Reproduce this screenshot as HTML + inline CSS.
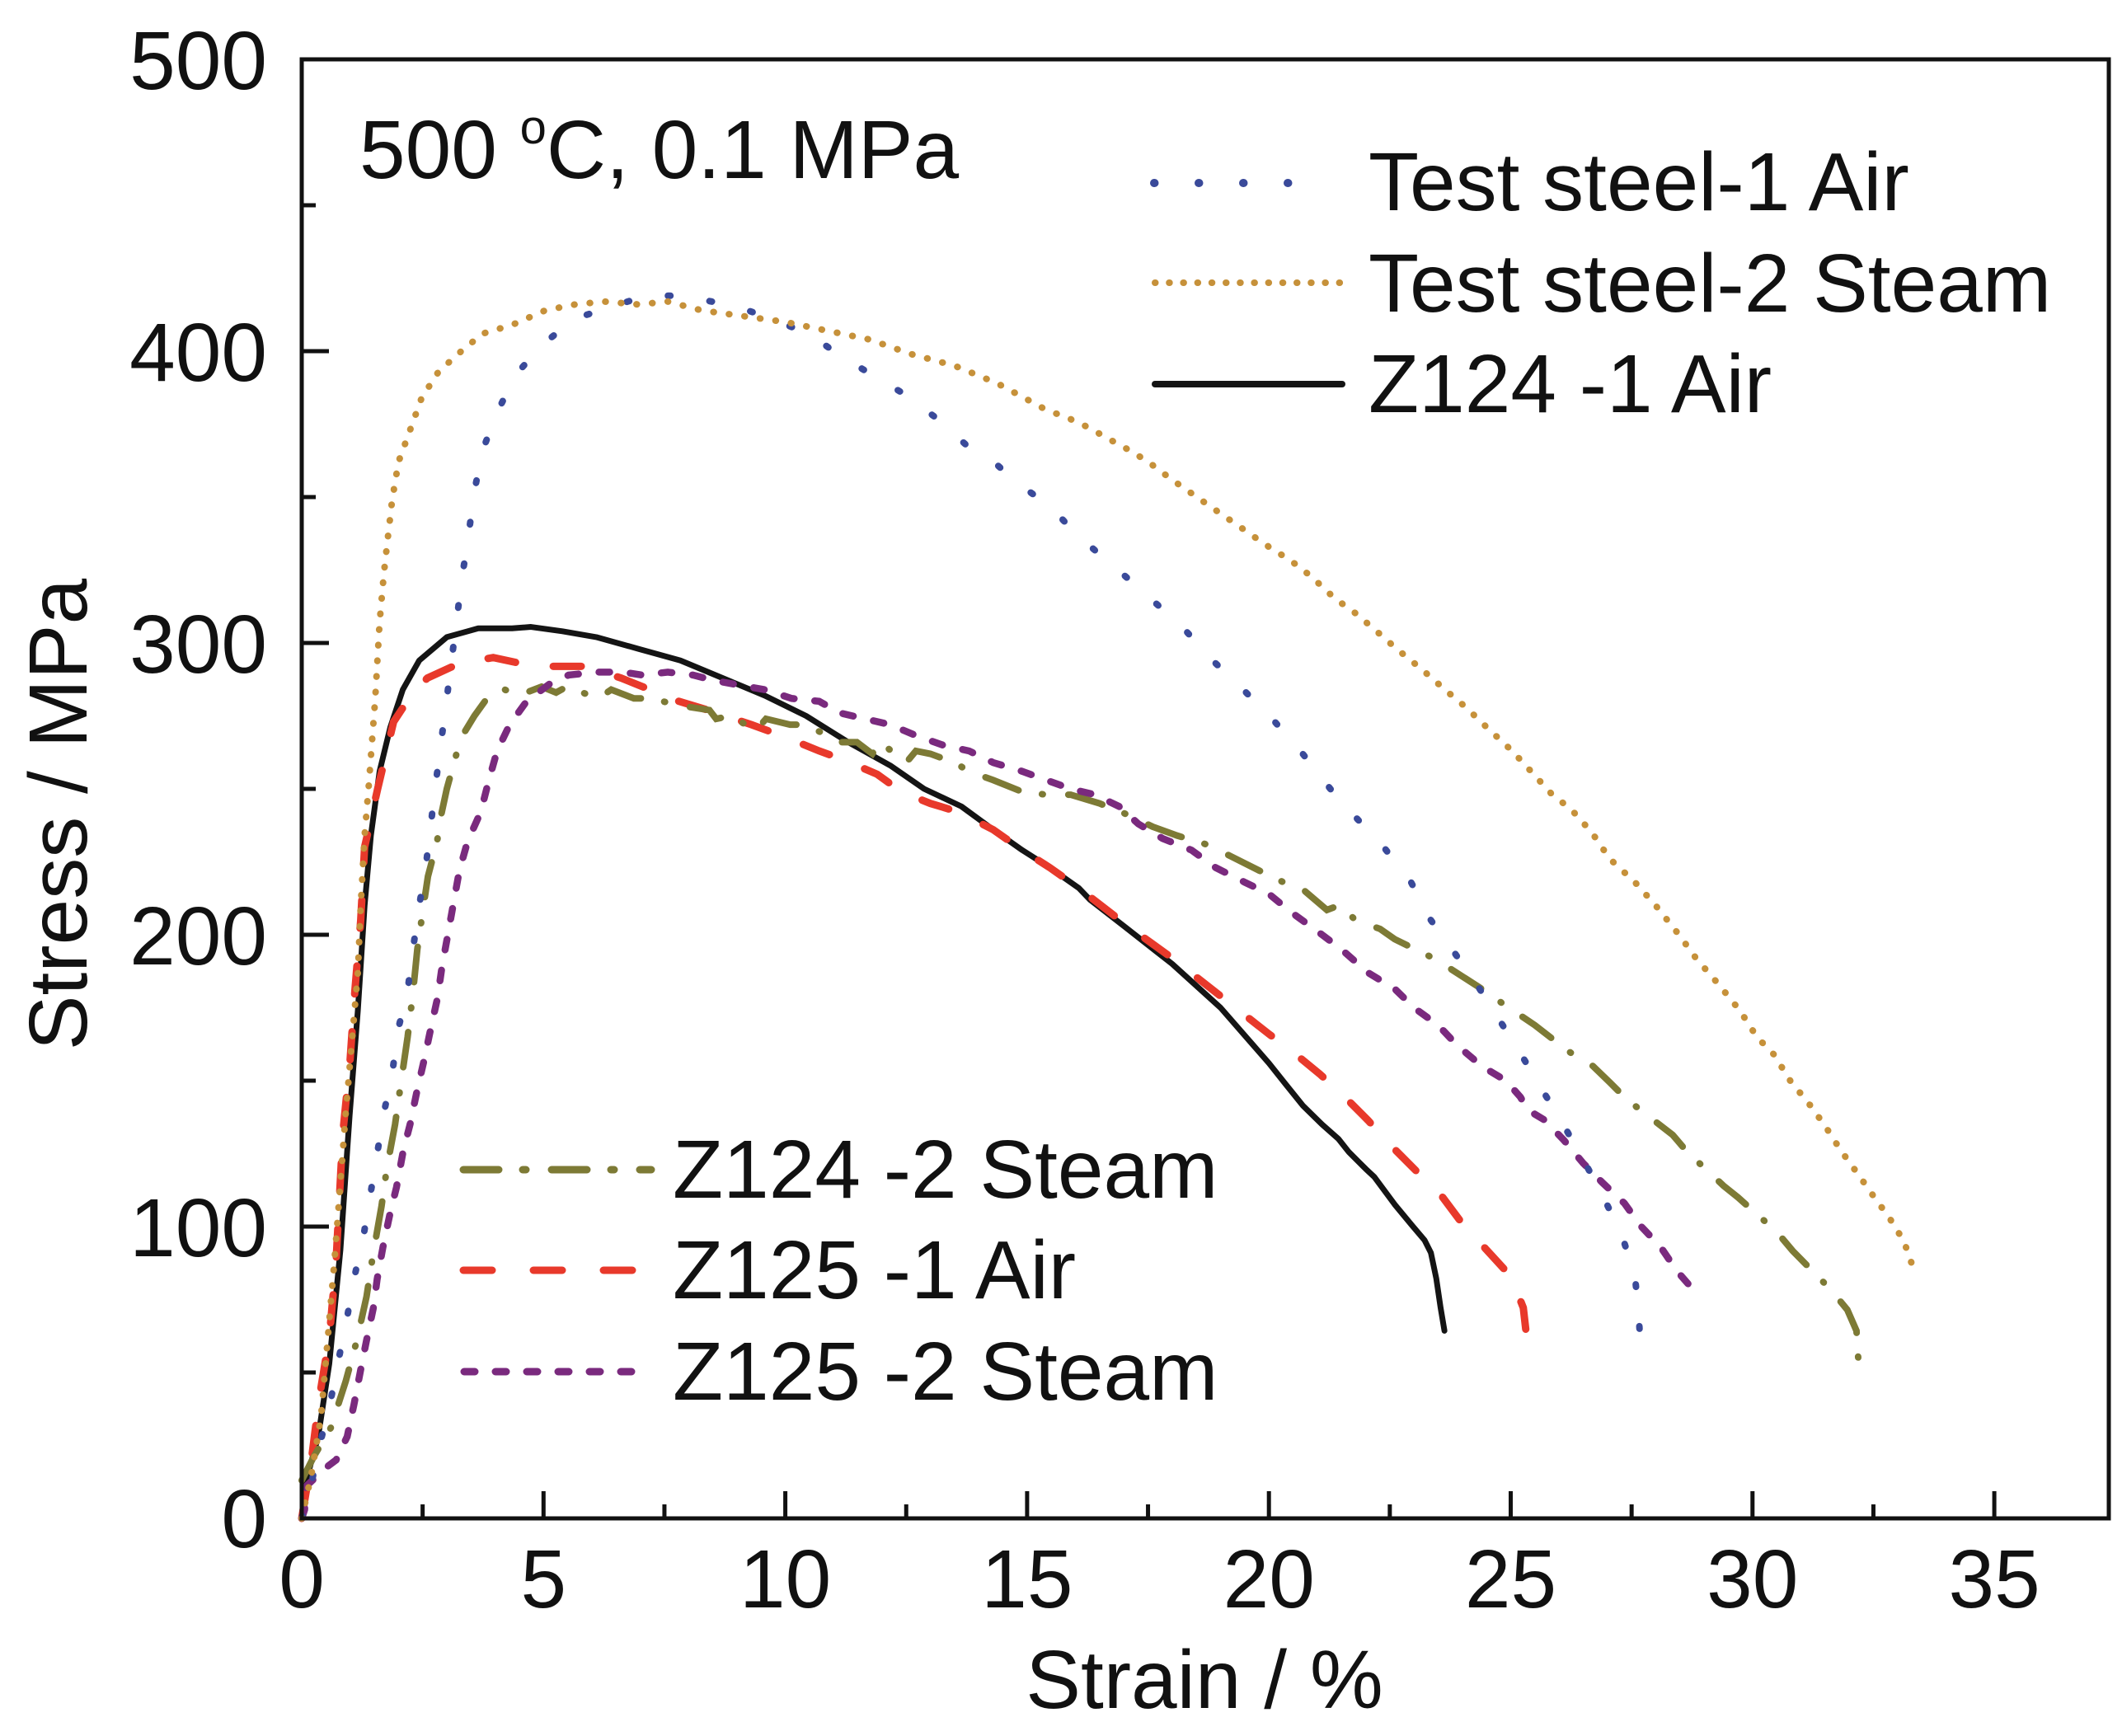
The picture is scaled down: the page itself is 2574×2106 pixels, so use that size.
<!DOCTYPE html>
<html>
<head>
<meta charset="utf-8">
<style>
html,body{margin:0;padding:0;background:#fff;}
svg{display:block;}
text{font-family:"Liberation Sans",Arial,sans-serif;fill:#111;}
</style>
</head>
<body>
<svg xmlns="http://www.w3.org/2000/svg" width="2574" height="2106" viewBox="0 0 2574 2106">
<rect x="0" y="0" width="2574" height="2106" fill="#fff"/>

<!-- curves in data space -->
<g transform="matrix(58.66 0 0 -3.54 366 1842)" fill="none">
  <!-- Z124-1 Air (black) -->
  <polyline vector-effect="non-scaling-stroke" stroke="#141414" stroke-width="7" stroke-linejoin="round" stroke-linecap="round"
   points="0,0 0.06,11 0.34,28 0.57,53 0.8,92 0.99,138 1.16,174 1.30,210 1.43,234 1.61,256 1.83,271 2.09,284 2.43,294 3.0,302 3.65,305 4.35,305 4.74,305.5 5.39,304 6.09,302 6.96,298 7.83,294 8.7,288 9.57,282 10.43,275 11.3,266 12.17,258 12.87,250 13.64,244 14.3,236 14.9,229 15.47,223 16.07,216 16.3,212 17,203 18,190 19,175 20,156 20.35,148.7 20.7,141.5 21.1,135 21.44,130 21.65,125.6 22.0,119.8 22.18,117 22.6,107.6 22.96,100.4 23.22,95.3 23.35,91 23.46,82.3 23.55,72.2 23.63,64.3"/>
  <!-- Z125-1 Air (red dashed) -->
  <polyline vector-effect="non-scaling-stroke" stroke="#e8392b" stroke-width="9" stroke-linecap="round" stroke-dasharray="34 46"
   points="0,0 0.2,20 0.36,41 0.57,62 0.71,88 0.85,132 1.0,157 1.1,181 1.22,205 1.3,230 1.57,250 1.9,273 2.3,283 2.6,288 3.26,293 3.96,295 4.52,293 5.2,292 5.87,292 6.6,288 7.2,284 7.8,280 8.4,277 9.3,272 9.96,268 10.7,263 11.2,260 11.9,255 12.4,249 13.0,245 13.6,242 14.3,236 14.9,229 15.47,223 16.07,216 16.3,213 17,204 18,192 19,179 20,166 20.52,159.5 21.05,152.3 21.57,144.4 22.05,136.4 22.48,128.5 23.05,119 23.55,111 24.0,101 24.48,92.4 25.0,83 25.26,72.2 25.35,59.2"/>
  <!-- Z124-2 Steam (olive dash-dot) -->
  <polyline vector-effect="non-scaling-stroke" stroke="#7d7a35" stroke-width="8" stroke-linecap="round" stroke-dasharray="43 29 1 31"
   points="0,13 0.26,21.5 0.6,31 0.91,47 1.14,61 1.34,76 1.47,90 1.65,107 1.76,120 1.93,135 2.05,149 2.19,165 2.3,180 2.39,195 2.52,210 2.61,220 2.8,232 2.87,240 3.0,250 3.2,262 3.35,269 3.57,275 3.83,281 4.2,284 4.48,282 4.96,285 5.26,283 5.48,285 6.13,281 6.4,284 6.87,281 7.3,281 7.65,279 8.43,277 8.57,274 8.87,275 9.39,270 9.6,274 10.1,272 10.35,272 10.8,269 11.04,266 11.48,266 11.8,262 11.96,266 12.5,259 12.7,263 13.0,262 13.5,259 13.8,256 14.3,253 14.9,249 15.4,248 15.9,248 16.5,245 17.1,241 17.6,237 18.1,234 18.7,231 19.2,227 19.8,222 20.3,218 20.6,217 21.2,208.5 21.44,210 21.8,205 22.3,202 22.6,198.5 23.4,192 23.6,190 24.35,182 24.74,177.5 25.5,169 25.85,164.5 26.2,160 26.7,155 27.05,149.4 27.4,143.6 28.35,131.4 28.65,125.6 29.4,114 29.7,110 30.5,98.2 30.83,91.7 31.6,78.7 31.96,71.5 32.15,64.3 32.2,51.3"/>
  <!-- Z125-2 Steam (purple short dash) -->
  <polyline vector-effect="non-scaling-stroke" stroke="#7a2a7e" stroke-width="8.5" stroke-linecap="round" stroke-dasharray="13 25"
   points="0,0 0.06,3 0.09,11 0.51,17.5 0.71,20 0.94,28 1.08,39 1.22,51 1.34,61 1.48,72 1.56,82 1.68,93 1.82,104 1.96,113.5 2.1,126 2.24,135 2.39,147 2.53,157 2.67,168 2.81,178.5 2.9,189 3.01,199 3.125,209.6 3.26,222 3.43,232 3.7,242 3.87,253 4.04,263 4.3,272 4.65,280 5.13,286 5.52,289 6.09,290 6.65,290 7.04,289 7.57,290 8.09,289 8.57,287 9.57,284 10.13,281 10.7,280 11.13,276 11.65,274 12.17,272 12.74,268 13.26,265 13.8,263 14.3,259 14.9,256 15.4,253 15.9,250 16.4,248 16.9,244 17.3,238 17.8,233 18.4,229 18.9,223 19.5,218 20.0,214 20.44,208 21.1,200 21.5,195 22.05,187 22.6,181.5 23.0,175 23.5,169 23.9,162 24.4,155 24.9,150 25.2,144.4 25.35,140 25.7,136.5 26.1,129.6 26.5,121.7 26.9,115 27.35,108 27.7,100 28.1,93 28.45,84.5 28.9,76"/>
  <!-- Test steel-1 Air (blue dotted) -->
  <polyline vector-effect="non-scaling-stroke" stroke="#3a4a9a" stroke-width="8" stroke-linecap="round" stroke-dasharray="3 48"
   points="0,0 0.2,12 0.4,27 0.6,40.5 0.77,55 0.94,69 1.08,82 1.28,97 1.42,111 1.56,125 1.7,139 1.875,153 2.0,168 2.19,181 2.3,195 2.43,210 2.57,224 2.78,253 3.0,281 3.22,310 3.32,323 3.45,337 3.57,352 3.74,366 4.04,379 4.43,392 4.96,402 5.63,411 6.35,415 7.13,419 7.83,419 8.48,417 9.22,414 9.87,410 10.48,406 11.09,399 11.78,392 12.39,386 13.13,377 13.73,368 14.38,361 14.86,354 15.47,347 16.03,337 16.67,328 17.16,321 17.77,312 18.29,304 18.9,293 19.47,284 20.07,274 20.7,262 21.27,250 21.81,240 22.4,229.5 22.94,218 23.35,205 23.83,194 24.26,184 24.7,172.5 25.18,160 25.61,148 26.05,136 26.5,123 26.92,110 27.3,97 27.57,83 27.65,69 27.7,54"/>
  <!-- Test steel-2 Steam (gold dotted) -->
  <polyline vector-effect="non-scaling-stroke" stroke="#c6913a" stroke-width="8" stroke-linecap="round" stroke-dasharray="0.5 18.5"
   points="0,0 0.2,15 0.4,35 0.68,89 0.91,139 1.16,187 1.22,210 1.30,234 1.39,252 1.52,281 1.61,307 1.70,324 1.78,336 1.87,349 2.0,362 2.22,372 2.48,384 2.83,393 3.3,400 3.74,406 4.35,409 5.04,414 5.65,416 6.26,417 6.96,416 7.57,417 8.26,414 9.13,412 10.0,410 10.87,407 11.74,404 12.6,399 13.5,395 14.38,389 14.94,384 15.38,380 15.86,377 16.25,374 16.68,370 17.12,366 17.51,362 17.99,356 18.51,350 19.03,344 19.47,339 19.9,334 20.47,328 20.86,323 21.38,315 21.73,311 22.16,305 22.64,298 23.16,291 23.64,284 24.07,278 24.51,271 25.03,263 25.42,256 25.86,248 26.25,243 26.68,235 27.05,226 27.57,218 28.0,210 28.48,200 28.83,192 29.3,183 29.74,174 30.09,165 30.44,159 30.78,150 31.22,141 31.52,134 31.83,126 32.18,118 32.52,110 32.83,103 33.13,95 33.33,85.5"/>
</g>

<!-- axes frame -->
<rect x="366" y="72" width="2192" height="1770" fill="none" stroke="#111" stroke-width="5"/>

<!-- ticks -->
<g stroke="#111" stroke-width="5">
  <line x1="366" y1="1488" x2="399" y2="1488"/>
  <line x1="366" y1="1134" x2="399" y2="1134"/>
  <line x1="366" y1="780" x2="399" y2="780"/>
  <line x1="366" y1="426" x2="399" y2="426"/>
  <line x1="366" y1="1665" x2="383" y2="1665"/>
  <line x1="366" y1="1311" x2="383" y2="1311"/>
  <line x1="366" y1="957" x2="383" y2="957"/>
  <line x1="366" y1="603" x2="383" y2="603"/>
  <line x1="366" y1="249" x2="383" y2="249"/>
  <line x1="659.3" y1="1842" x2="659.3" y2="1809"/>
  <line x1="952.6" y1="1842" x2="952.6" y2="1809"/>
  <line x1="1245.9" y1="1842" x2="1245.9" y2="1809"/>
  <line x1="1539.2" y1="1842" x2="1539.2" y2="1809"/>
  <line x1="1832.5" y1="1842" x2="1832.5" y2="1809"/>
  <line x1="2125.8" y1="1842" x2="2125.8" y2="1809"/>
  <line x1="2419.1" y1="1842" x2="2419.1" y2="1809"/>
  <line x1="512.65" y1="1842" x2="512.65" y2="1825"/>
  <line x1="805.95" y1="1842" x2="805.95" y2="1825"/>
  <line x1="1099.25" y1="1842" x2="1099.25" y2="1825"/>
  <line x1="1392.55" y1="1842" x2="1392.55" y2="1825"/>
  <line x1="1685.85" y1="1842" x2="1685.85" y2="1825"/>
  <line x1="1979.15" y1="1842" x2="1979.15" y2="1825"/>
  <line x1="2272.45" y1="1842" x2="2272.45" y2="1825"/>
</g>

<!-- y tick labels -->
<g font-size="100" text-anchor="end">
  <text x="324" y="1877">0</text>
  <text x="324" y="1524">100</text>
  <text x="324" y="1170">200</text>
  <text x="324" y="816">300</text>
  <text x="324" y="462">400</text>
  <text x="324" y="108">500</text>
</g>
<!-- x tick labels -->
<g font-size="100" text-anchor="middle">
  <text x="366" y="1950">0</text>
  <text x="659.3" y="1950">5</text>
  <text x="952.6" y="1950">10</text>
  <text x="1245.9" y="1950">15</text>
  <text x="1539.2" y="1950">20</text>
  <text x="1832.5" y="1950">25</text>
  <text x="2125.8" y="1950">30</text>
  <text x="2419.1" y="1950">35</text>
</g>

<!-- axis titles -->
<text x="1461" y="2072" font-size="100" text-anchor="middle">Strain / %</text>
<text transform="translate(105,988) rotate(-90)" font-size="100" text-anchor="middle">Stress / MPa</text>

<!-- condition label -->
<text x="436" y="216" font-size="100">500 <tspan font-size="58" dy="-42">o</tspan><tspan dy="42">C, 0.1 MPa</tspan></text>

<!-- top legend -->
<line x1="1400" y1="222" x2="1616" y2="222" stroke="#3a4a9a" stroke-width="10" stroke-linecap="round" stroke-dasharray="0.5 53.5"/>
<line x1="1401" y1="343" x2="1626" y2="343" stroke="#c6913a" stroke-width="8" stroke-linecap="round" stroke-dasharray="0.5 16.7"/>
<line x1="1401" y1="466" x2="1628" y2="466" stroke="#141414" stroke-width="8" stroke-linecap="round"/>
<g font-size="100">
  <text x="1660" y="255">Test steel-1 Air</text>
  <text x="1660" y="378">Test steel-2 Steam</text>
  <text x="1660" y="500">Z124 -1 Air</text>
</g>

<!-- bottom legend -->
<line x1="562" y1="1419" x2="790" y2="1419" stroke="#7d7a35" stroke-width="9" stroke-linecap="round" stroke-dasharray="43 29 4 31"/>
<line x1="562" y1="1541" x2="772" y2="1541" stroke="#e8392b" stroke-width="9" stroke-linecap="round" stroke-dasharray="35 50"/>
<line x1="563" y1="1664" x2="774" y2="1664" stroke="#7a2a7e" stroke-width="9" stroke-linecap="round" stroke-dasharray="13 25"/>
<g font-size="100">
  <text x="816" y="1453">Z124 -2 Steam</text>
  <text x="816" y="1575">Z125 -1 Air</text>
  <text x="816" y="1698">Z125 -2 Steam</text>
</g>
</svg>
</body>
</html>
